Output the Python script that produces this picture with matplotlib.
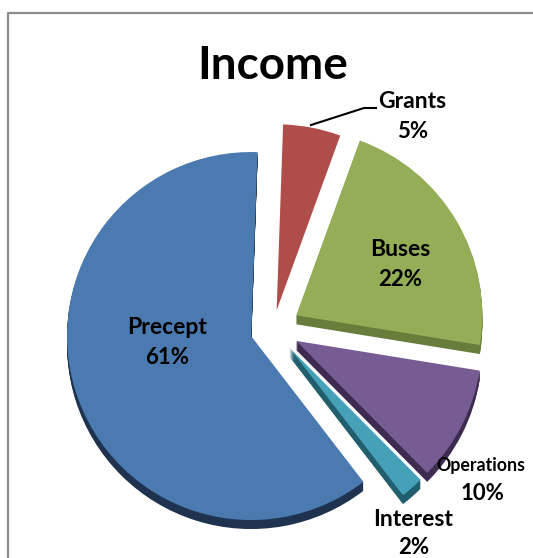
import matplotlib
matplotlib.use('Agg')
import matplotlib.pyplot as plt

labels = ['Grants', 'Buses', 'Operations', 'Interest', 'Precept']
shares = [5, 22, 10, 2, 61]

colors = ['#AE4D49', '#93AE57', '#775C94', '#46A0B8', '#4A7AAF']
# Grants shows no side in the original
dark_colors = ['none', '#667D3C', '#3D2C50', '#215F6F', '#1F3350']

W, H = 533, 558
radius = 186
precept_radius = 184
depth = 9
cx, cy = 273, H - 329
# pie() takes explode in data units, here pixels
explode = [19, 27, 26, 25, 23]

plt.rcParams['font.family'] = ['Lato', 'DejaVu Sans']

fig = plt.figure(figsize=(W / 100, H / 100), dpi=100)
ax = fig.add_axes([0, 0, 1, 1])


def draw_pie(offset, slice_colors):
    wedges, _ = ax.pie(shares, explode=explode, colors=slice_colors, startangle=88,
                       counterclock=False, radius=radius, center=(cx, cy - offset), frame=True)
    wedges[-1].set_radius(precept_radius)


# side of the slices: same pie stacked downwards
for d in range(depth, 0, -1):
    draw_pie(d, dark_colors)
draw_pie(0, colors)

ax.set_xlim(0, W)
ax.set_ylim(0, H)
ax.set_aspect('equal')
ax.axis('off')


def y_(py):
    return H - py


# chart frame, runs off the right and bottom of the crop
ax.plot([8, 8, W + 5], [-5, y_(13), y_(13)], color='#8C8C8C', lw=1.6, clip_on=True)

ax.text(273, y_(66), 'Income', fontsize=33, fontweight='bold', ha='center', va='center')

# leader for Grants
ax.plot([311, 364, 376], [y_(125), y_(108), y_(108)], color='black', lw=1.5)

label_pos = {'Grants': ((412, 102), (413, 131)),
             'Buses': ((400, 250), (400, 280)),
             'Operations': ((481, 465), (482, 493)),
             'Interest': ((413, 520), (414, 547)),
             'Precept': ((167, 327), (167, 357))}

for name, share in zip(labels, shares):
    (x1, y1), (x2, y2) = label_pos[name]
    size = 12.8 if name == 'Operations' else 16.5
    ax.text(x1, y_(y1), name, fontsize=size, fontweight='bold', ha='center', va='center')
    ax.text(x2, y_(y2), '%d%%' % share, fontsize=16, fontweight='bold', ha='center', va='center')

fig.savefig('out.png', dpi=100)
